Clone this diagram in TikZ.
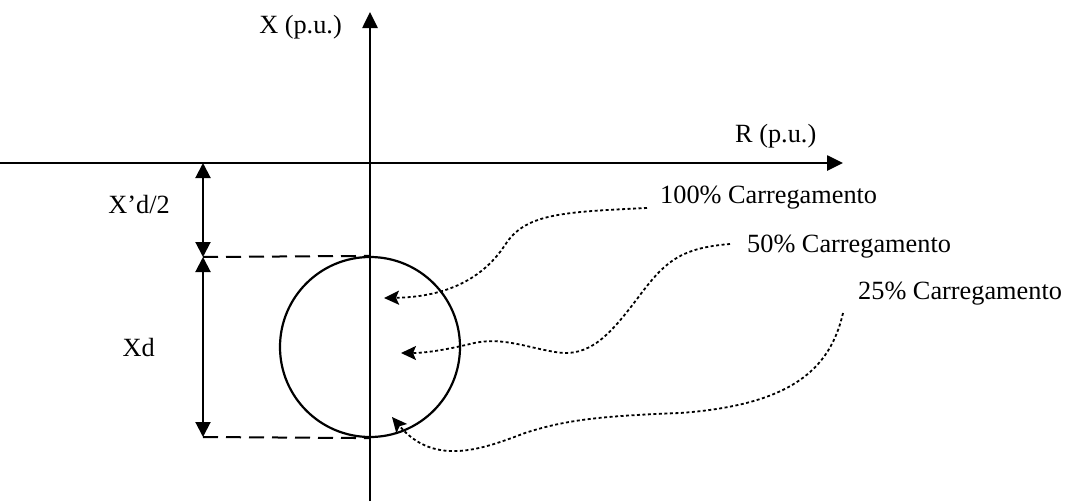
\documentclass[tikz,border=0pt]{standalone}
\usepackage{fontspec}
\setmainfont{Liberation Serif}
\usetikzlibrary{arrows.meta}

\begin{document}
\begin{tikzpicture}[x=1pt,y=-1pt,
  lbl/.style={inner sep=0pt,font=\fontsize{26.3}{30}\selectfont},
  axis/.style={line width=2.6pt,-{Triangle[length=16pt,width=15pt]}},
  dim/.style={line width=2pt,{Triangle[length=15pt,width=15pt]}-{Triangle[length=15pt,width=15pt]}},
  guide/.style={line width=2pt,dash pattern=on 15pt off 8pt},
  curv/.style={line width=1.8pt,dash pattern=on 3pt off 2.5pt,-{Stealth[length=15pt,width=14pt,inset=3pt]}}]
\useasboundingbox (0,0) rectangle (1071,501);
% eixos
\coordinate (xbot) at (370,501);
\coordinate (xtop) at (370,12);
\coordinate (rleft) at (0,163);
\coordinate (rright) at (843,163);
\draw[axis] (xbot) -- (xtop);
\draw[axis] (rleft) -- (rright);
\node[lbl,anchor=base east] (xlab) at (342,33) {X (p.u.)};
\node[lbl,anchor=base west] (rlab) at (735,142) {R (p.u.)};
% circulo
\node[circle,draw,line width=2.2pt,minimum size=180pt,inner sep=0pt] (circ) at (370,347) {};
% cotas
\coordinate (d0) at (203,163);
\coordinate (d1) at (203,257);
\coordinate (d2) at (203,437);
\draw[dim] (d0) -- (d1);
\draw[dim] (d1) -- (d2);
\draw[guide] (d1) -- (circ.north);
\draw[guide] (d2) -- (circ.south);
\node[lbl,anchor=base east] (xdhalf) at (170,213) {X’d/2};
\node[lbl,anchor=base east] (xd) at (155,356) {Xd};
% carregamentos
\node[lbl,anchor=base west] (c100) at (660,203) {100\% Carregamento};
\node[lbl,anchor=base west] (c50) at (747,252) {50\% Carregamento};
\node[lbl,anchor=base west] (c25) at (858,299) {25\% Carregamento};
\coordinate (s100) at (647,208);
\coordinate (s50) at (730,244);
\coordinate (s25) at (843,313);
\coordinate (e100) at (384,298);
\coordinate (e50) at (401,353);
\coordinate (e25) at (392,417);
\draw[curv] (s100) .. controls (560,212) and (525,214) .. (505,245) .. controls (480,283) and (440,297) .. (e100);
\draw[curv] (s50) .. controls (680,248) and (665,262) .. (640,295) .. controls (610,335) and (590,358) .. (555,352) .. controls (525,347) and (500,336) .. (470,344) .. controls (445,350) and (425,353) .. (e50);
\draw[curv] (s25) .. controls (830,370) and (790,405) .. (680,413) .. controls (600,416) and (565,420) .. (525,433) .. controls (485,448) and (435,468) .. (e25);
\end{tikzpicture}
\end{document}
